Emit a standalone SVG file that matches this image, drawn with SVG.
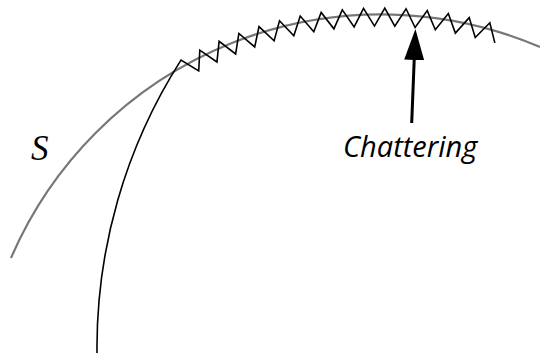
<svg xmlns="http://www.w3.org/2000/svg" width="540" height="354" viewBox="0 0 540 354">
<style>
.surf{fill:none;stroke:#777;stroke-width:2.2}
.traj{fill:none;stroke:#000;stroke-width:1.6;stroke-linejoin:miter}
.arrow{fill:none;stroke:#000;stroke-width:3}
.lbl{font-family:"Open Sans","DejaVu Sans",sans-serif;font-style:italic;font-size:29px;fill:#000}
.sym{font-family:"Liberation Serif","Times New Roman",serif;font-style:italic;font-size:35px;fill:#000}
</style>
<defs>
<marker id="ah" markerUnits="userSpaceOnUse" markerWidth="31" markerHeight="20" viewBox="0 0 31 20" refX="0" refY="10" orient="auto">
<path d="M0,0 L31,10 L0,20 z" fill="#000"/>
</marker>
</defs>
<g id="surface-S">
<path class="surf" d="M11,258 A403,403 0 0 1 540,47"/>
<text class="sym" x="31" y="160">S</text>
</g>
<g id="trajectory">
<path class="traj" d="M97,353 A534,534 0 0 1 180.98,60.10 L198.71,70.96 L199.80,50.21 L216.94,61.99 L219.12,41.31 L235.62,53.95 L238.88,33.42 L254.69,46.91 L259.02,26.56 L274.12,40.85 L279.49,20.76 L293.83,35.82 L300.23,16.04 L313.77,31.81 L321.18,12.39 L333.89,28.84 L342.30,9.83 L354.14,26.92 L363.52,8.37 L374.46,26.05 L384.79,8.02 L394.79,26.24 L406.05,8.77 L415.09,27.49 L427.24,10.62 L435.30,29.78 L448.31,13.56 L455.36,33.12 L469.20,17.60 L475.22,37.49 L489.84,22.71 L494.83,42.89"/>
</g>
<g id="label-chattering">
<text class="lbl" x="343" y="157">Chattering</text>
</g>
<g id="connectors">
<path class="arrow" d="M411.7,123 L414.2,60" marker-end="url(#ah)"/>
</g>
</svg>
